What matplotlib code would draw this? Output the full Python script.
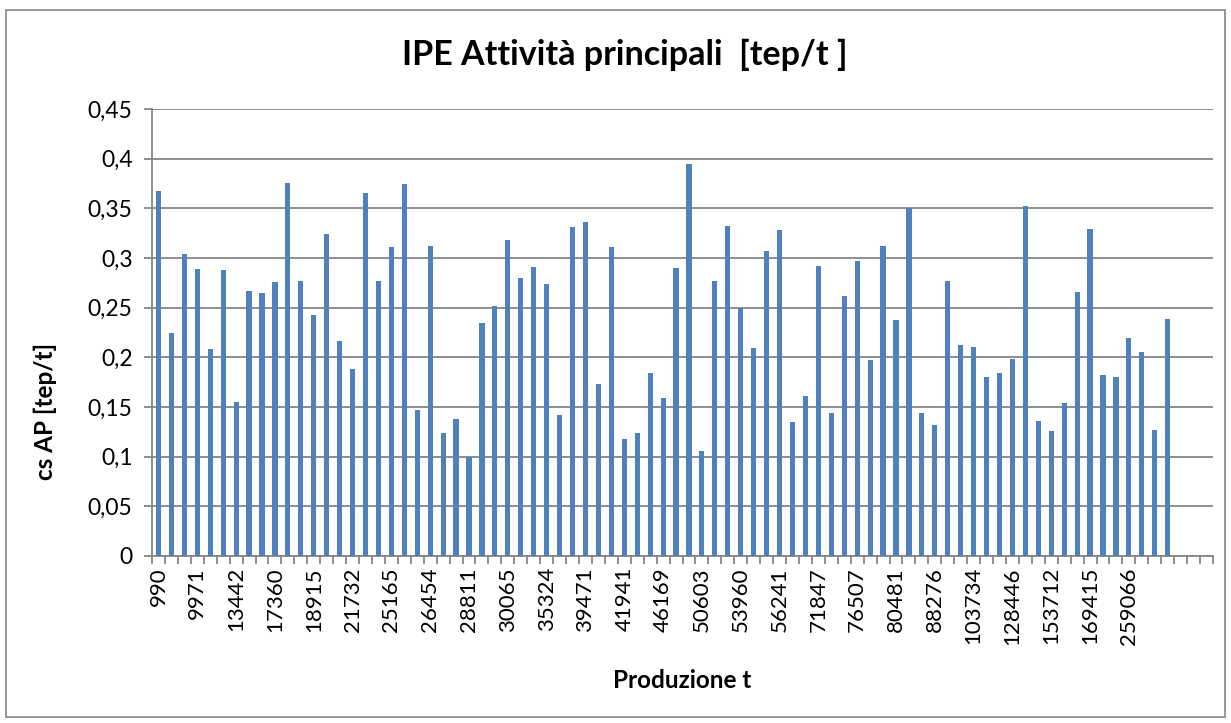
import numpy as np
import matplotlib
matplotlib.use("Agg")
import matplotlib.pyplot as plt
from matplotlib.ticker import FuncFormatter, FixedLocator
from matplotlib.patches import Rectangle

plt.rcParams["font.family"] = ["Lato", "DejaVu Sans"]

# --------------------- DATA ---------------------

# cs AP [tep/t] per impianto, in ordine di produzione crescente
cs_ap = [
    0.367, 0.224, 0.304, 0.289, 0.208, 0.288, 0.155, 0.267, 0.265, 0.276,
    0.376, 0.277, 0.243, 0.324, 0.216, 0.188, 0.365, 0.277, 0.311, 0.375,
    0.147, 0.312, 0.124, 0.138, 0.100, 0.235, 0.252, 0.318, 0.280, 0.291,
    0.274, 0.142, 0.331, 0.336, 0.173, 0.311, 0.118, 0.124, 0.184, 0.159,
    0.290, 0.395, 0.106, 0.277, 0.332, 0.250, 0.209, 0.307, 0.328, 0.135,
    0.161, 0.292, 0.144, 0.262, 0.297, 0.197, 0.312, 0.238, 0.350, 0.144,
    0.132, 0.277, 0.212, 0.210, 0.180, 0.184, 0.198, 0.352, 0.136, 0.126,
    0.154, 0.266, 0.329, 0.182, 0.180, 0.219, 0.205, 0.127, 0.239,
]

# etichette visibili (una ogni tre categorie)
production_labels = [
    "990", "9971", "13442", "17360", "18915", "21732", "25165", "26454",
    "28811", "30065", "35324", "39471", "41941", "46169", "50603", "53960",
    "56241", "71847", "76507", "80481", "88276", "103734", "128446",
    "153712", "169415", "259066",
]

n_categories = 82          # 79 valori + 3 categorie vuote in coda
label_step = 3

# --------------------- CHART ---------------------

W, H = 1231, 723
fig = plt.figure(figsize=(W / 100, H / 100), dpi=100)

# bordo esterno del grafico
fig.patches.append(Rectangle((6 / W, 1 - 717 / H), 1219 / W, 707 / H,
                             transform=fig.transFigure, fill=False,
                             edgecolor="#868686", linewidth=1.2))

left, right, top, bottom = 152, 1213, 109, 556
ax = fig.add_axes([left / W, 1 - bottom / H, (right - left) / W, (bottom - top) / H])

x = np.arange(len(cs_ap))
ax.bar(x, cs_ap, width=0.4, color="#4F81BD", zorder=3)

ax.set_xlim(-0.5, n_categories - 0.5)
ax.set_ylim(0, 0.45)

grid_color = "#868686"
ax.set_yticks(np.arange(0, 0.451, 0.05))
ax.yaxis.set_major_formatter(FuncFormatter(
    lambda v, p: ("%g" % round(v, 2)).replace(".", ",")))
ax.yaxis.grid(True, color=grid_color, linewidth=1.3, zorder=0)
for s in ["top", "right"]:
    ax.spines[s].set_visible(False)
for s in ["left", "bottom"]:
    ax.spines[s].set_color(grid_color)
    ax.spines[s].set_linewidth(1.3)

label_pos = np.arange(len(production_labels)) * label_step
ax.set_xticks(label_pos)
ax.set_xticklabels(production_labels, rotation=90, fontsize=16)
ax.xaxis.set_minor_locator(FixedLocator(np.arange(-0.5, n_categories, 1)))
ax.tick_params(axis="x", which="major", length=0, pad=8)
ax.tick_params(axis="x", which="minor", length=6, color=grid_color, width=1.3)
ax.tick_params(axis="y", length=6, color=grid_color, width=1.3,
               labelsize=16.5, pad=8)

fig.text(625 / W, 1 - 55 / H, "IPE Attività principali  [tep/t ]",
         ha="center", va="center", fontsize=24.5, fontweight="bold")
fig.text(45 / W, 1 - 480 / H, "cs AP [tep/t]", rotation=90,
         ha="center", va="bottom", fontsize=17.5, fontweight="bold")
fig.text(682 / W, 1 - 681 / H, "Produzione t",
         ha="center", va="center", fontsize=17.5, fontweight="bold")

fig.savefig("out.png", dpi=100)
